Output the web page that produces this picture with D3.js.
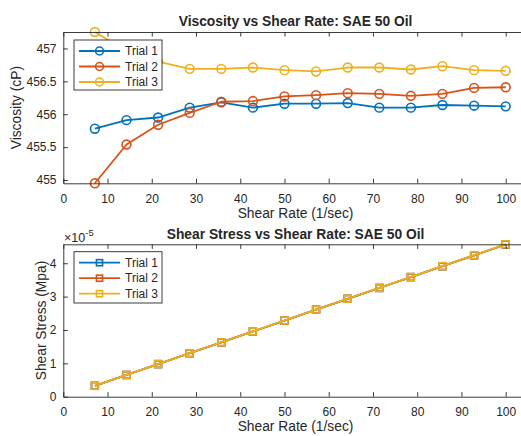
<!DOCTYPE html>
<html>
<head>
<meta charset="utf-8">
<script src="https://cdn.jsdelivr.net/npm/d3@7"></script>
<style>
  html, body { margin: 0; padding: 0; background: #fff; }
  svg { display: block; }
  text { font-family: "Liberation Sans", Arial, Helvetica, sans-serif; fill: #262626; }
</style>
</head>
<body>
<svg id="fig" width="521" height="436"></svg>
<script>
// Shear rate (1/sec) for the 14 measurement points
const shearRate = [7.14, 14.29, 21.43, 28.57, 35.71, 42.86, 50.00, 57.14, 64.29, 71.43, 78.57, 85.71, 92.86, 100.00];

// Viscosity (cP) per trial
const viscTrial1 = [455.78, 455.91, 455.95, 456.10, 456.18, 456.10, 456.16, 456.16, 456.17, 456.10, 456.10, 456.14, 456.13, 456.12];
const viscTrial2 = [454.95, 455.54, 455.84, 456.02, 456.19, 456.20, 456.27, 456.29, 456.32, 456.31, 456.28, 456.31, 456.40, 456.41];
const viscTrial3 = [457.25, 456.96, 456.80, 456.69, 456.69, 456.71, 456.67, 456.65, 456.71, 456.71, 456.68, 456.73, 456.67, 456.66];

// Shear stress (x1e-5 MPa) per trial
const stressTrial1 = [0.326, 0.651, 0.977, 1.303, 1.629, 1.955, 2.281, 2.607, 2.933, 3.258, 3.584, 3.910, 4.236, 4.561];
const stressTrial2 = [0.325, 0.651, 0.977, 1.303, 1.629, 1.955, 2.281, 2.607, 2.934, 3.259, 3.585, 3.911, 4.238, 4.564];
const stressTrial3 = [0.327, 0.653, 0.979, 1.305, 1.631, 1.957, 2.283, 2.609, 2.936, 3.262, 3.588, 3.914, 4.241, 4.567];

const trialNames = ["Trial 1", "Trial 2", "Trial 3"];
const trialColors = ["#0072BD", "#D95319", "#EDB120"];

const xTicks = [0, 10, 20, 30, 40, 50, 60, 70, 80, 90, 100];
const viscTicks = [455, 455.5, 456, 456.5, 457];
const stressTicks = [0, 1, 2, 3, 4];

const svg = d3.select("#fig");
const AX = "#262626";
const TICK = 4.6;
const TICK_FONT = 12;

function drawPanel(opt) {
  const g = svg.append("g");
  const x = d3.scaleLinear().domain([0, 105]).range([opt.left, opt.right]);
  const y = d3.scaleLinear().domain(opt.yDomain).range([opt.bottom, opt.top]);

  // plot lines and markers
  opt.series.forEach((vals, i) => {
    const pts = shearRate.map((r, k) => [r, vals[k]]);
    const col = trialColors[i];
    g.append("path")
      .attr("d", d3.line().x(d => x(d[0])).y(d => y(d[1]))(pts))
      .attr("fill", "none").attr("stroke", col).attr("stroke-width", 1.8)
      .attr("stroke-linejoin", "round");
    const m = g.append("g");
    pts.forEach(p => drawMarker(m, opt.marker, x(p[0]), y(p[1]), col));
  });

  // box with inward ticks
  const axG = g.append("g");
  const bottomAx = axG.append("g").attr("transform", `translate(0,${opt.bottom})`)
    .call(d3.axisBottom(x).tickValues(xTicks).tickFormat(d3.format("d"))
      .tickSizeInner(-TICK).tickSizeOuter(0).tickPadding(10.8));
  const topAx = axG.append("g").attr("transform", `translate(0,${opt.top})`)
    .call(d3.axisTop(x).tickValues(xTicks).tickFormat("")
      .tickSizeInner(-TICK).tickSizeOuter(0));
  const leftAx = axG.append("g").attr("transform", `translate(${opt.left},0)`)
    .call(d3.axisLeft(y).tickValues(opt.yTicks).tickFormat(d => String(d))
      .tickSizeInner(-TICK).tickSizeOuter(0).tickPadding(6.8));
  const rightAx = axG.append("g").attr("transform", `translate(${opt.right},0)`)
    .call(d3.axisRight(y).tickValues(opt.yTicks).tickFormat("")
      .tickSizeInner(-TICK).tickSizeOuter(0));
  [bottomAx, topAx, leftAx, rightAx].forEach(a => {
    a.attr("font-family", null);
    a.select(".domain").attr("stroke", AX).attr("stroke-width", 0.9);
    a.selectAll(".tick line").attr("stroke", AX).attr("stroke-width", 0.9);
    a.selectAll(".tick text").attr("fill", AX).style("font-size", TICK_FONT + "px");
  });

  // title and axis labels
  const cx = (opt.left + opt.right) / 2;
  g.append("text").attr("x", cx).attr("y", opt.titleY)
    .attr("text-anchor", "middle").attr("font-weight", "bold").style("font-size", "13.8px")
    .text(opt.title);
  g.append("text").attr("x", cx).attr("y", opt.bottom + 34.3)
    .attr("text-anchor", "middle").style("font-size", "13.8px")
    .text("Shear Rate (1/sec)");
  g.append("text")
    .attr("transform", `translate(${opt.yLabelX},${(opt.top + opt.bottom) / 2}) rotate(-90)`)
    .attr("text-anchor", "middle").style("font-size", "13.8px")
    .text(opt.yLabel);

  // legend
  const lg = g.append("g");
  lg.append("rect").attr("x", 74).attr("y", opt.top + opt.legTop)
    .attr("width", 88).attr("height", opt.legH)
    .attr("fill", "#fff").attr("stroke", AX).attr("stroke-width", 0.9);
  trialNames.forEach((name, i) => {
    const cy = opt.top + opt.legTop + 11 + i * 15.5;
    lg.append("line").attr("x1", 79).attr("x2", 120).attr("y1", cy).attr("y2", cy)
      .attr("stroke", trialColors[i]).attr("stroke-width", 1.8);
    drawMarker(lg, opt.marker, 99.5, cy, trialColors[i], 0.9);
    lg.append("text").attr("x", 125).attr("y", cy + 4.2).style("font-size", "12px").text(name);
  });
  return g;
}

function drawMarker(sel, type, cx, cy, col, scale = 1) {
  if (type === "circle") {
    sel.append("circle").attr("cx", cx).attr("cy", cy).attr("r", 4.4 * scale)
      .attr("fill", "none").attr("stroke", col).attr("stroke-width", 1.6);
  } else {
    const s = 6.8 * scale;
    sel.append("rect").attr("x", cx - s / 2).attr("y", cy - s / 2)
      .attr("width", s).attr("height", s)
      .attr("fill", "none").attr("stroke", col).attr("stroke-width", 1.6);
  }
}

const viscAll = viscTrial1.concat(viscTrial2, viscTrial3);
const stressAll = stressTrial1.concat(stressTrial2, stressTrial3);

// Viscosity vs shear rate
drawPanel({
  left: 63.3, right: 527.8, top: 32, bottom: 183.3,
  yDomain: d3.extent(viscAll), yTicks: viscTicks,
  series: [viscTrial1, viscTrial2, viscTrial3], marker: "circle",
  title: "Viscosity vs Shear Rate: SAE 50 Oil", titleY: 26,
  yLabel: "Viscosity (cP)", yLabelX: 20.5,
  legTop: 8, legH: 50
});

// Shear stress vs shear rate
drawPanel({
  left: 63.3, right: 527.8, top: 244.3, bottom: 396.7,
  yDomain: [0, d3.max(stressAll)], yTicks: stressTicks,
  series: [stressTrial1, stressTrial2, stressTrial3], marker: "square",
  title: "Shear Stress vs Shear Rate: SAE 50 Oil", titleY: 239,
  yLabel: "Shear Stress (Mpa)", yLabelX: 45.5,
  legTop: 7.4, legH: 51.3
});

// exponent marker for the stress axis
const ex = svg.append("text").attr("x", 64).attr("y", 241.5).style("font-size", "12.5px");
ex.append("tspan").text("\u00d710");
ex.append("tspan").style("font-size", "9.5px").attr("dy", -6).text("-5");
</script>
</body>
</html>
